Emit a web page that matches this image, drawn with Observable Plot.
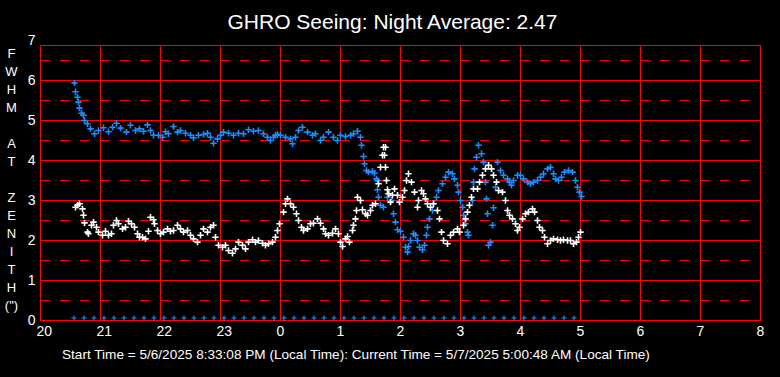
<!DOCTYPE html>
<html><head><meta charset="utf-8">
<script src="https://cdn.jsdelivr.net/npm/d3@7"></script>
<script src="https://cdn.jsdelivr.net/npm/@observablehq/plot@0.6"></script>
<style>
html,body{margin:0;padding:0;background:#000;}
#wrap{position:relative;width:780px;height:377px;overflow:hidden;background:#000;font-family:"Liberation Sans",Arial,sans-serif;color:#fff;}
#title{position:absolute;left:0;top:10.5px;width:785px;text-align:center;font-size:21px;line-height:21px;}
#ylab{position:absolute;left:0;top:44.5px;width:23px;text-align:center;font-size:13px;line-height:18px;}
#foot{position:absolute;left:62px;top:348.3px;font-size:13.6px;line-height:14px;white-space:pre;}
#chart{position:absolute;left:0;top:0;}
</style></head>
<body>
<div id="wrap">
  <div id="chart"></div>
  <div id="title">GHRO Seeing: Night Average: 2.47</div>
  <div id="ylab">F<br>W<br>H<br>M<br>&nbsp;<br>A<br>T<br>&nbsp;<br>Z<br>E<br>N<br>I<br>T<br>H<br>(")</div>
  <div id="foot">Start Time = 5/6/2025 8:33:08 PM (Local Time): Current Time = 5/7/2025 5:00:48 AM (Local Time)</div>
</div>
<script>
// time axis: minutes after 20:00 local time
const xTicks = [0,60,120,180,240,300,360,420,480,540,600,660,720];
const xTickLabels = ["20","21","22","23","0","1","2","3","4","5","6","7","8"];
const yTicks = [0,1,2,3,4,5,6,7];
const yWhole = [1,2,3,4,5,6];
const yHalf = [0.5,1.5,2.5,3.5,4.5,5.5,6.5];

// blue series (minutes after 20:00, FWHM arcsec)
const blueT = [34,35,37,38,39,41,43,44,47,50,54,58,63,68,72,76,80,86,90,95,99,103,107,110,113,118,122,125,128,133,137,140,145,150,153,158,163,167,170,173,177,180,183,188,193,198,203,208,213,218,223,227,230,233,235,237,240,245,250,252,255,258,262,267,272,275,280,283,288,293,297,300,305,310,313,317,320,321,323,324,326,328,332,334,336,337,337,338,340,343,347,349,351,353,355,357,360,363,365,367,368,370,373,375,377,379,382,384,386,387,389,392,393,396,398,402,405,408,412,414,417,418,420,422,423,425,427,428,432,433,434,436,438,441,443,445,446,447,448,450,452,453,455,457,460,463,467,469,471,473,477,480,483,487,490,493,497,500,503,507,510,513,515,518,521,524,528,532,535,537,539,541];
const blueV = [5.94,5.72,5.58,5.46,5.31,5.18,5.13,5.0,4.92,4.79,4.67,4.75,4.82,4.72,4.83,4.93,4.81,4.71,4.88,4.75,4.79,4.73,4.89,4.75,4.63,4.63,4.58,4.72,4.67,4.85,4.71,4.75,4.68,4.63,4.57,4.63,4.65,4.68,4.58,4.43,4.54,4.63,4.71,4.68,4.63,4.68,4.67,4.77,4.73,4.75,4.67,4.58,4.5,4.58,4.63,4.65,4.63,4.58,4.54,4.42,4.58,4.75,4.83,4.71,4.63,4.67,4.5,4.58,4.71,4.58,4.5,4.63,4.6,4.63,4.67,4.73,4.58,4.38,4.1,3.92,3.75,3.71,3.73,3.68,3.54,3.5,3.27,3.08,2.88,2.83,3.08,3.17,3.0,2.67,2.46,2.27,2.23,2.08,1.83,1.71,1.85,2.0,2.17,2.13,2.0,1.83,1.77,1.88,2.13,2.33,2.54,2.75,2.92,3.08,3.25,3.42,3.58,3.71,3.67,3.54,3.38,3.21,3.0,2.83,2.63,2.42,2.21,2.13,3.0,3.46,3.79,4.08,4.38,4.17,3.96,3.46,3.04,2.67,1.88,1.96,2.38,2.82,3.33,3.96,3.75,3.63,3.54,3.46,3.38,3.5,3.63,3.63,3.54,3.46,3.42,3.46,3.5,3.58,3.67,3.79,3.83,3.67,3.54,3.5,3.58,3.71,3.75,3.71,3.5,3.33,3.21,3.1];

// white series (minutes after 20:00, FWHM arcsec)
const whiteT = [35,37,39,42,43,44,47,48,51,53,56,58,62,65,68,71,73,76,78,82,85,88,91,94,97,99,102,105,108,110,113,114,117,120,123,127,130,133,137,140,143,147,150,153,157,160,163,167,170,173,175,178,182,185,188,192,195,198,202,205,208,212,215,218,222,225,228,232,235,237,239,243,245,247,250,253,256,258,261,263,267,270,273,277,280,283,285,288,292,295,298,300,302,305,307,309,312,313,315,316,317,320,322,325,327,330,332,335,338,340,342,343,344,345,345,346,347,348,350,352,354,357,359,362,364,366,368,371,374,377,378,381,383,385,387,390,393,397,399,401,403,407,410,413,417,419,423,425,427,429,431,433,437,439,442,445,448,451,453,456,458,462,465,467,469,472,475,477,479,482,485,488,492,494,497,499,502,504,507,510,513,517,520,523,527,530,533,536,538,540];
const whiteV = [2.83,2.88,2.92,2.79,2.63,2.44,2.21,2.17,2.38,2.46,2.33,2.21,2.13,2.23,2.13,2.17,2.38,2.5,2.42,2.29,2.33,2.48,2.42,2.33,2.17,2.08,2.08,2.04,2.23,2.58,2.52,2.42,2.25,2.17,2.21,2.29,2.23,2.25,2.38,2.29,2.21,2.25,2.13,2.04,1.96,2.13,2.29,2.21,2.33,2.38,2.08,1.88,1.83,1.88,1.75,1.68,1.79,1.96,1.88,1.79,1.96,2.02,1.96,2.0,1.93,1.88,1.92,1.96,2.08,2.25,2.42,2.71,2.92,3.04,2.92,2.83,2.67,2.5,2.33,2.25,2.29,2.42,2.43,2.54,2.43,2.29,2.17,2.13,2.18,2.29,2.17,1.96,1.85,2.04,2.1,1.96,2.25,2.38,2.54,2.75,3.08,3.0,2.77,2.67,2.63,2.75,2.88,2.92,3.42,3.83,4.13,4.33,4.13,4.33,3.83,3.5,3.27,3.17,2.96,3.13,3.29,3.13,2.96,3.08,3.25,3.5,3.67,3.46,3.21,2.83,3.0,3.25,3.17,3.04,2.92,2.83,2.92,2.75,2.54,2.21,2.0,1.92,2.13,2.21,2.29,2.21,2.38,2.54,2.71,2.88,3.08,3.29,3.29,3.46,3.63,3.79,3.88,3.79,3.63,3.46,3.25,3.21,3.0,2.75,2.63,2.54,2.42,2.25,2.33,2.54,2.67,2.71,2.79,2.71,2.5,2.33,2.25,2.08,1.92,2.0,2.04,2.02,2.0,2.02,2.0,2.0,1.92,1.96,2.08,2.21];

// sample timestamps shown along the zero line
const zeroT = [33,43,53,63,73,83,93,103,113,123,133,143,153,163,173,183,193,203,213,223,233,243,253,263,273,283,293,303,313,323,333,343,353,363,373,383,393,403,413,423,433,443,453,463,473,483,493,503,513,523,533];

const BLUE = "#1E8CFF";
const blue = blueT.map((t, i) => ({t, v: blueV[i]}));
const white = whiteT.map((t, i) => ({t, v: whiteV[i]}));

const plus = {
  draw(ctx, size) {
    const r = Math.sqrt(size / Math.PI);
    ctx.moveTo(-r, 0); ctx.lineTo(r, 0);
    ctx.moveTo(0, -r); ctx.lineTo(0, r);
  }
};

const chart = Plot.plot({
  width: 780, height: 377,
  marginTop: 40, marginBottom: 57, marginLeft: 40, marginRight: 20,
  style: {background: "black", color: "white", fontFamily: "Liberation Sans, Arial, sans-serif", fontSize: "14px"},
  x: {domain: [0, 720]},
  y: {domain: [0, 7]},
  marks: [
    Plot.ruleY(yHalf, {stroke: "#FF0000", strokeWidth: 1, strokeDasharray: "10,10"}),
    Plot.ruleY(yWhole, {stroke: "#FF0000", strokeWidth: 1}),
    Plot.ruleX(xTicks, {stroke: "#FF0000", strokeWidth: 1, insetTop: 5}),
    Plot.frame({stroke: "#FF0000", strokeWidth: 1, insetTop: 5}),
    Plot.axisX({ticks: xTicks, tickFormat: d => xTickLabels[xTicks.indexOf(d)], tickSize: 0, tickPadding: 6,
      textAnchor: "start", dx: -4, fill: "white", fontSize: 14, label: null}),
    Plot.axisY({ticks: yTicks, tickFormat: d => String(d), tickSize: 0, tickPadding: 5, fill: "white", fontSize: 14, label: null}),
    Plot.dot(zeroT, {x: d => d, y: () => 0, symbol: plus, r: 2.6, stroke: BLUE, strokeWidth: 1.2, dx: 0.5, dy: -2.5}),
    Plot.dot(blue, {x: "t", y: "v", symbol: plus, r: 3.2, stroke: BLUE, strokeWidth: 1.6}),
    Plot.dot(white, {x: "t", y: "v", symbol: plus, r: 3.2, stroke: "white", strokeWidth: 1.6})
  ]
});
document.getElementById("chart").appendChild(chart);
</script>
</body></html>
